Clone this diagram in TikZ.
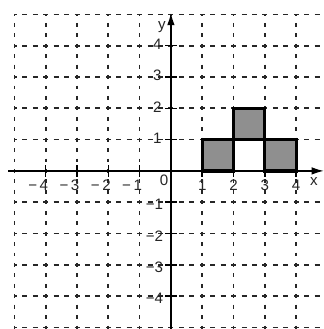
\documentclass[tikz,border=0pt]{standalone}
\usepackage{fontspec}
\setmainfont{Liberation Sans}
\usetikzlibrary{arrows.meta}

\begin{document}
\begin{tikzpicture}[x=0.8cm,y=0.8cm,>={Latex[length=9pt,width=5.5pt]},
hgrid/.style={black!85,line width=1.2pt,dash pattern=on 3.6pt off 3.99pt,dash phase=1.8pt},
vgrid/.style={black!85,line width=1.2pt,dash pattern=on 2.8pt off 4.79pt,dash phase=1.4pt},
axisline/.style={line width=1.1pt},
tile/.style={fill=black!44,draw=black,line width=2.3pt},
lab/.style={font=\fontsize{11}{12}\selectfont,text=black!85,inner sep=1pt}]
%\draw[help lines] (-5,-5) grid (5,5);
\useasboundingbox (-5.46,-5.05) rectangle (4.89,5.46);
%
% dashed grid
\foreach \x in {-5,...,4}
\draw[vgrid] (\x,5) -- (\x,-5.1);
\foreach \y in {-5,...,5}
\draw[hgrid] (-5,\y) -- (4.95,\y);
%
% axes
\coordinate (xs) at (-5.2,0);
\coordinate (xe) at (4.89,0);
\coordinate (ys) at (0,-5.1);
\coordinate (ye) at (0,5.05);
\draw[axisline,->] (xs) -- (xe);
\draw[axisline,->] (ys) -- (ye);
\foreach \t in {-4,-3,-2,-1,1,2,3,4}
{\draw[axisline] (\t,-0.18) -- (\t,0.18);
\draw[axisline] (-0.18,\t) -- (0.18,\t);}
%
% shaded squares
\draw[tile] (1,0) rectangle (2,1);
\draw[tile] (3,0) rectangle (4,1);
\draw[tile] (2,1) rectangle (3,2);
%
% labels
\foreach \x in {1,...,4}
\node[lab] (xl\x) at (\x,-0.47) {\x};
\foreach \x in {1,...,4}
\node[lab] (xm\x) at (-\x-0.24,-0.46) {−\,\x};
\foreach \y in {1,...,4}
\node[lab,anchor=east] (yl\y) at (-0.25,\y+0.05) {\y};
\foreach \y in {1,...,4}
\node[lab,anchor=east] (ym\y) at (-0.2,-\y-0.08) {−\y};
\node[lab] (orig) at (-0.22,-0.31) {0};
\node[lab] (xname) at (4.57,-0.34) {x};
\node[lab] (yname) at (-0.29,4.6) {y};
%
\end{tikzpicture}
\end{document}
